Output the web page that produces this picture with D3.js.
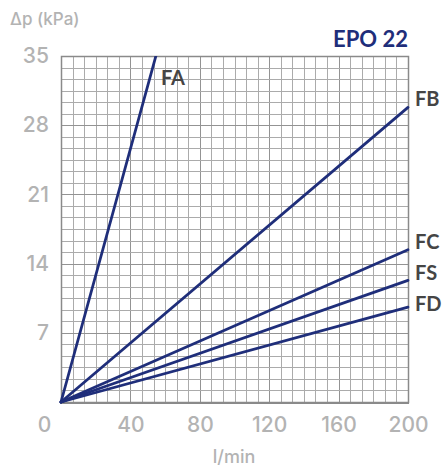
<!DOCTYPE html>
<html>
<head>
<meta charset="utf-8">
<script src="https://cdn.jsdelivr.net/npm/d3@7"></script>
<style>
  html, body { margin: 0; padding: 0; background: #fff; }
  svg { display: block; font-family: Lato, "Open Sans", sans-serif; }
</style>
</head>
<body>
<script>
// ---- data ----
const series = ["FA", "FB", "FC", "FS", "FD"];
const flowStart = [0, 0, 0, 0, 0];
const dpStart = [0, 0, 0, 0, 0];
const flowEnd = [54.7, 200, 200, 200, 200];
const dpEnd = [35, 29.8, 15.4, 12.3, 9.6];
const xTicks = [0, 40, 80, 120, 160, 200];
const yTicks = [7, 14, 21, 28, 35];
const title = "EPO 22";
const yTitle = "Δp (kPa)";
const xTitle = "l/min";

// ---- layout ----
const W = 442, H = 469;
const mLeft = 61, mRight = 408, mTop = 56, mBottom = 402;
const navy = "#1f2e7a";
const tickGray = "#b3b3b3";
const tickFont = "Inter, Lato, sans-serif";

const svg = d3.select("body").append("svg").attr("width", W).attr("height", H);

const x = d3.scaleLinear().domain([0, 200]).range([mLeft, mRight]);
const y = d3.scaleLinear().domain([0, 35]).range([mBottom, mTop]);

// grid: 30 x 30 cells
const nCells = 30;
const gx = d3.range(0, nCells + 1).map(i => i * 200 / nCells);
const gy = d3.range(0, nCells + 1).map(i => i * 35 / nCells);

const grid = svg.append("g");
grid.selectAll("line.v").data(gx).join("line")
  .attr("x1", d => Math.round(x(d)) + 0.5).attr("x2", d => Math.round(x(d)) + 0.5)
  .attr("y1", mTop).attr("y2", mBottom)
  .attr("stroke", (d, i) => i % 6 === 0 ? "#939393" : "#ababab")
  .attr("stroke-width", 1);
grid.selectAll("line.h").data(gy).join("line")
  .attr("y1", d => Math.round(y(d)) + 0.5).attr("y2", d => Math.round(y(d)) + 0.5)
  .attr("x1", mLeft).attr("x2", mRight)
  .attr("stroke", (d, i) => i % 6 === 0 ? "#939393" : "#ababab")
  .attr("stroke-width", 1);

// border
svg.append("rect")
  .attr("x", mLeft + 0.5).attr("y", mTop + 0.5)
  .attr("width", mRight - mLeft).attr("height", mBottom - mTop)
  .attr("fill", "none").attr("stroke", "#8a8a8a").attr("stroke-width", 1.5);
svg.append("line").attr("x1", mLeft).attr("x2", mRight + 1)
  .attr("y1", mBottom + 1).attr("y2", mBottom + 1)
  .attr("stroke", "#8a8a8a").attr("stroke-width", 2);

// axes labels (tick text only)
const yAxis = d3.axisLeft(y).tickValues(yTicks).tickSize(0).tickPadding(12);
const yg = svg.append("g").attr("transform", `translate(${mLeft},0)`).call(yAxis);
yg.select(".domain").remove();
yg.selectAll("text")
  .attr("fill", tickGray).attr("font-size", 21).attr("font-weight", 500)
  .attr("font-family", tickFont);

const xAxis = d3.axisBottom(x).tickValues(xTicks).tickSize(0).tickPadding(0);
const xg = svg.append("g").attr("transform", `translate(0,${mBottom})`).call(xAxis);
xg.select(".domain").remove();
xg.selectAll("text")
  .attr("fill", tickGray).attr("font-size", 21).attr("font-weight", 500)
  .attr("font-family", tickFont)
  .attr("dy", null).attr("y", 30)
  .attr("x", d => d === 0 ? -17 : 0);

// series lines
const line = d3.line().x(d => x(d[0])).y(d => y(d[1]));
const clipId = "plotclip";
svg.append("clipPath").attr("id", clipId).append("rect")
  .attr("x", mLeft - 2).attr("y", mTop).attr("width", mRight - mLeft + 4).attr("height", mBottom - mTop + 3);

const lines = series.map((s, i) => ({
  name: s,
  pts: [[flowStart[i], dpStart[i]], [flowEnd[i], dpEnd[i]]]
}));

svg.append("g").attr("clip-path", `url(#${clipId})`)
  .selectAll("path").data(lines).join("path")
  .attr("d", d => line(d.pts))
  .attr("fill", "none").attr("stroke", navy).attr("stroke-width", 2.8)
  .attr("stroke-linecap", "round");

// series labels
svg.selectAll("text.lab").data(lines).join("text")
  .attr("class", "lab")
  .attr("x", d => d.name === "FA" ? x(d.pts[1][0]) + 5 : x(200) + 7)
  .attr("y", d => {
    const ye = y(d.pts[1][1]);
    if (d.name === "FA") return ye + 29;
    if (d.name === "FD") return ye + 4;
    if (d.name === "FS") return ye + 0;
    return ye - 1;
  })
  .attr("fill", "#454545").attr("font-size", 20).attr("font-weight", 700)
  .attr("font-family", "Lato, sans-serif")
  .text(d => d.name);

// titles
svg.append("text").attr("x", mRight).attr("y", 47)
  .attr("text-anchor", "end").attr("fill", navy)
  .attr("font-size", 22).attr("font-weight", 700)
  .attr("font-family", "Lato, sans-serif").text(title);

svg.append("text").attr("x", 10).attr("y", 25)
  .attr("fill", tickGray).attr("font-size", 17).attr("font-weight", 500)
  .attr("font-family", tickFont).text(yTitle);

svg.append("text").attr("x", 234).attr("y", 463)
  .attr("text-anchor", "middle").attr("fill", tickGray)
  .attr("font-size", 18).attr("font-weight", 500)
  .attr("font-family", tickFont).text(xTitle);
</script>
</body>
</html>
